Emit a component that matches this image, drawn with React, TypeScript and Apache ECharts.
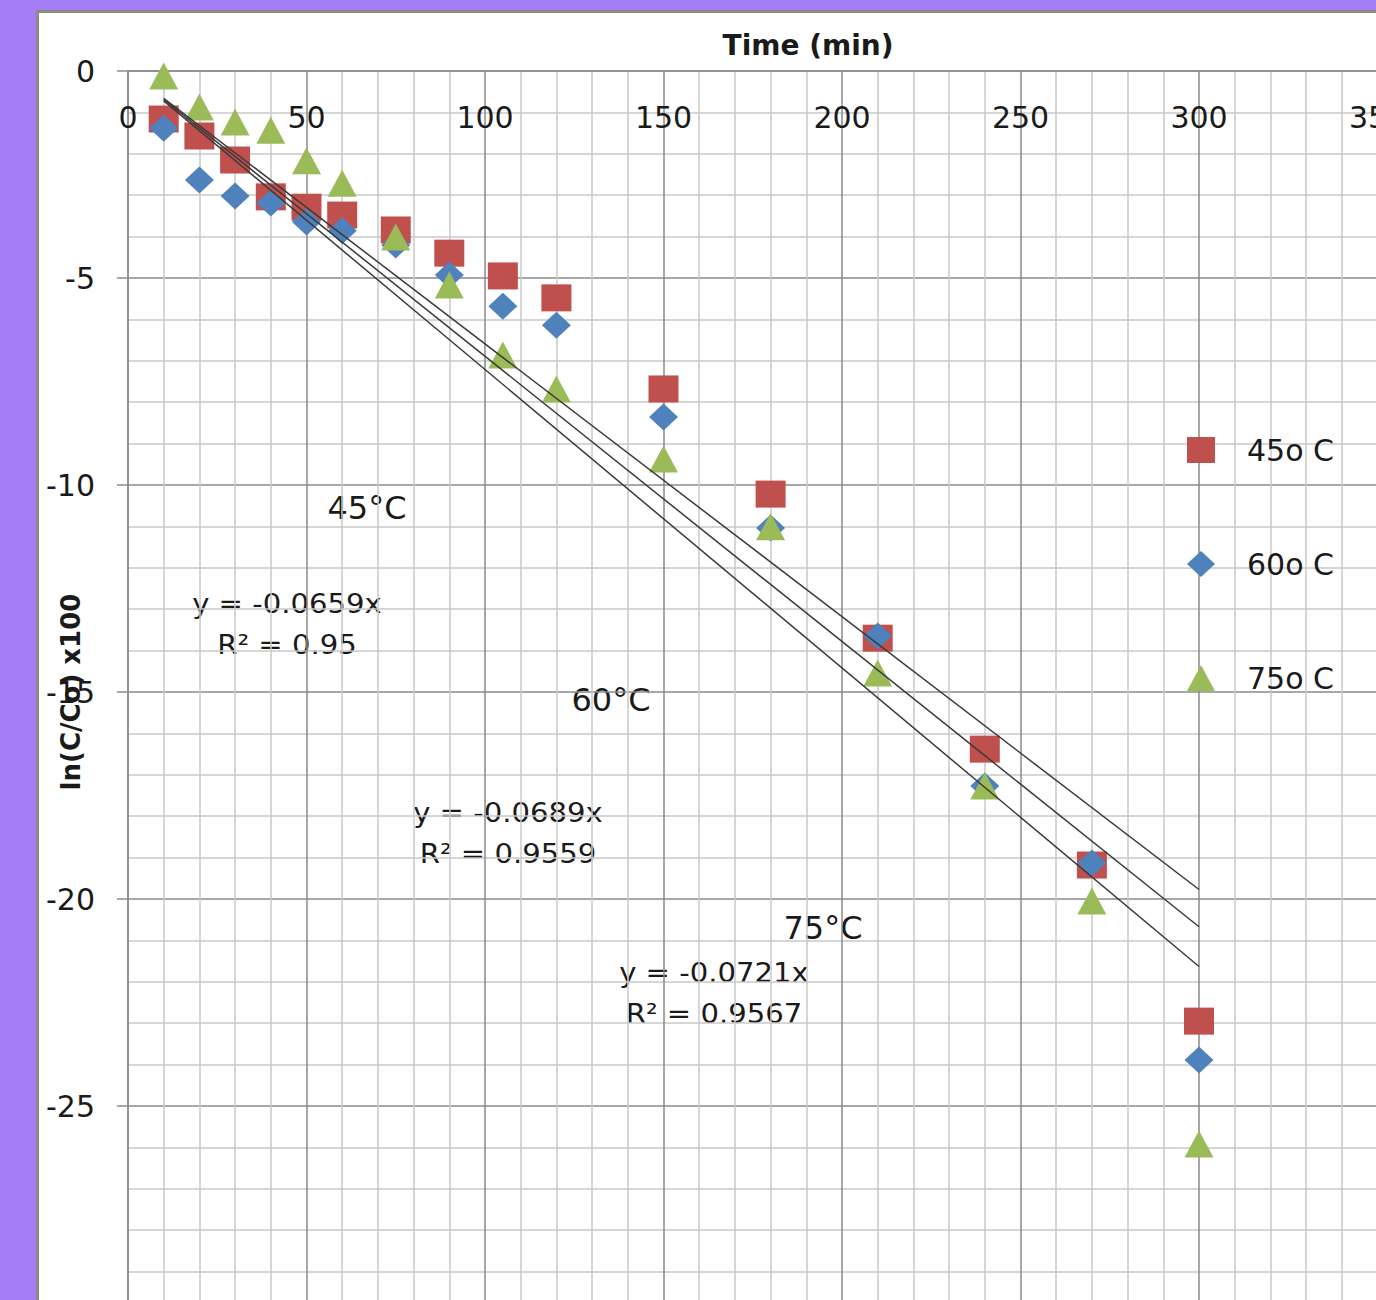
import React, { useEffect, useRef } from "react";
import * as echarts from "echarts";

const times = [10, 20, 30, 40, 50, 60, 75, 90, 105, 120, 150, 180, 210, 240, 270, 300];
const values45 = [-1.16, -1.57, -2.15, -3.04, -3.29, -3.48, -3.84, -4.4, -4.95, -5.48, -7.68, -10.22, -13.7, -16.38, -19.18, -22.95];
const values60 = [-1.38, -2.63, -3.02, -3.19, -3.65, -3.86, -4.2, -4.93, -5.68, -6.14, -8.36, -11.04, -13.65, -17.27, -19.13, -23.89];
const values75 = [-0.12, -0.87, -1.23, -1.43, -2.17, -2.71, -4.01, -5.17, -6.86, -7.68, -9.37, -11.01, -14.54, -17.27, -20.05, -25.92];

const trendTimes = [10, 300];
const trend45 = [-0.659, -19.77];
const trend60 = [-0.689, -20.67];
const trend75 = [-0.721, -21.63];

const seriesNames = ["45o C", "60o C", "75o C"];
const seriesColors = ["#C0504D", "#4F81BD", "#9BBB59"];
const seriesSymbols = ["rect", "diamond", "triangle"];

const tempLabels = ["45°C", "60°C", "75°C"];
const equations = ["y = -0.0659x", "y = -0.0689x", "y = -0.0721x"];
const rSquared = ["R² = 0.95", "R² = 0.9559", "R² = 0.9567"];

const FONT = "'DejaVu Sans', sans-serif";

function pairs(xs: number[], ys: number[]) {
  return xs.map((x, i) => [x, ys[i]]);
}

export default function App() {
  const ref = useRef<HTMLDivElement>(null);

  useEffect(() => {
    document.body.style.margin = "0";
    if (!ref.current) return;
    const chart = echarts.init(ref.current, undefined, { renderer: "svg" });

    const scatterData = [values45, values60, values75];
    const trendData = [trend45, trend60, trend75];

    const tempPos = [
      [328, 495],
      [572, 687],
      [784, 915],
    ];
    const eqPos = [
      [248, 591],
      [469, 800],
      [675, 960],
    ];

    const textColor = "#1a1a1a";
    const graphics: any[] = [
      {
        type: "text",
        x: 769,
        y: 32,
        style: {
          text: "Time (min)",
          font: `bold 28px ${FONT}`,
          fill: textColor,
          align: "center",
          verticalAlign: "middle",
        },
      },
    ];
    tempLabels.forEach((t, i) => {
      graphics.push({
        type: "text",
        x: tempPos[i][0],
        y: tempPos[i][1],
        style: { text: t, font: `32px ${FONT}`, fill: textColor, align: "center", verticalAlign: "middle" },
      });
      graphics.push({
        type: "text",
        x: eqPos[i][0],
        y: eqPos[i][1],
        scaleX: 1.12,
        style: { text: equations[i], font: `26px ${FONT}`, fill: textColor, align: "center", verticalAlign: "middle" },
      });
      graphics.push({
        type: "text",
        x: eqPos[i][0],
        y: eqPos[i][1] + 41,
        scaleX: 1.12,
        style: { text: rSquared[i], font: `26px ${FONT}`, fill: textColor, align: "center", verticalAlign: "middle" },
      });
    });

    const series: any[] = [];
    seriesNames.forEach((name, i) => {
      series.push({
        name,
        type: "scatter",
        data: pairs(times, scatterData[i]),
        symbol: seriesSymbols[i],
        symbolSize: i === 0 ? [30, 27] : [29, 27],
        itemStyle: { color: seriesColors[i], opacity: 1 },
        z: 2 + i,
      });
    });
    seriesNames.forEach((name, i) => {
      series.push({
        name: "trend " + name,
        type: "line",
        data: pairs(trendTimes, trendData[i]),
        showSymbol: false,
        symbol: "none",
        lineStyle: { color: "#3a3a3a", width: 1.5 },
        z: 10,
        silent: true,
      });
    });

    chart.setOption({
      animation: false,
      backgroundColor: "#ffffff",
      textStyle: { fontFamily: FONT },
      grid: { left: 89, top: 58, right: -1.5, bottom: -13, containLabel: false, outerBoundsMode: "none" },
      legend: {
        data: seriesNames.map((n, i) => ({ name: n, icon: seriesSymbols[i] })),
        orient: "vertical",
        left: 1148,
        top: 422,
        padding: 0,
        itemWidth: 28,
        itemHeight: 26,
        itemGap: 84,
        textStyle: { fontSize: 30, lineHeight: 26, color: textColor, fontFamily: FONT, padding: [0, 0, 0, 27] },
        selectedMode: false,
      },
      xAxis: {
        type: "value",
        position: "top",
        min: 0,
        max: 350,
        interval: 50,
        axisLine: { show: true, onZero: false, lineStyle: { color: "#8c8c8c", width: 1.5 } },
        axisTick: { show: false },
        axisLabel: { inside: true, margin: 31, fontSize: 30, color: textColor, fontFamily: FONT, showMaxLabel: true, showMinLabel: true },
        splitLine: { show: true, lineStyle: { color: "#8a8a8a", width: 1.5 } },
        minorTick: { show: false, splitNumber: 5 },
        minorSplitLine: { show: true, lineStyle: { color: "#c8c8c8", width: 1.5 } },
      },
      yAxis: {
        type: "value",
        min: -30,
        max: 0,
        interval: 5,
        name: "ln(C/Co) x100",
        nameLocation: "middle",
        nameGap: 44,
        nameMoveOverlap: false,
        nameTextStyle: { fontSize: 26, fontWeight: "bold", color: textColor, fontFamily: FONT },
        axisLine: { show: true, onZero: false, lineStyle: { color: "#8c8c8c", width: 1.5 } },
        axisTick: { show: true, length: 11, lineStyle: { color: "#8c8c8c", width: 1.5 } },
        axisLabel: {
          margin: 33,
          fontSize: 30,
          color: textColor,
          fontFamily: FONT,
          formatter: (v: number) => (v <= -30 ? "" : String(v)),
        },
        splitLine: { show: true, lineStyle: { color: "#8a8a8a", width: 1.5 } },
        minorTick: { show: false, splitNumber: 5 },
        minorSplitLine: { show: true, lineStyle: { color: "#c8c8c8", width: 1.5 } },
      },
      series,
      graphic: graphics,
    });

    return () => chart.dispose();
  }, []);

  return (
    <div style={{ position: "relative", width: 1376, height: 1300, background: "#A57EF5", overflow: "hidden" }}>
      <div
        style={{
          position: "absolute",
          left: 36,
          top: 10,
          width: 1340,
          height: 1290,
          background: "#ffffff",
          borderLeft: "3px solid #8a8a8a",
          borderTop: "3px solid #8a8a8a",
          boxSizing: "border-box",
        }}
      >
        <div ref={ref} style={{ width: 1337, height: 1287 }} />
      </div>
    </div>
  );
}
